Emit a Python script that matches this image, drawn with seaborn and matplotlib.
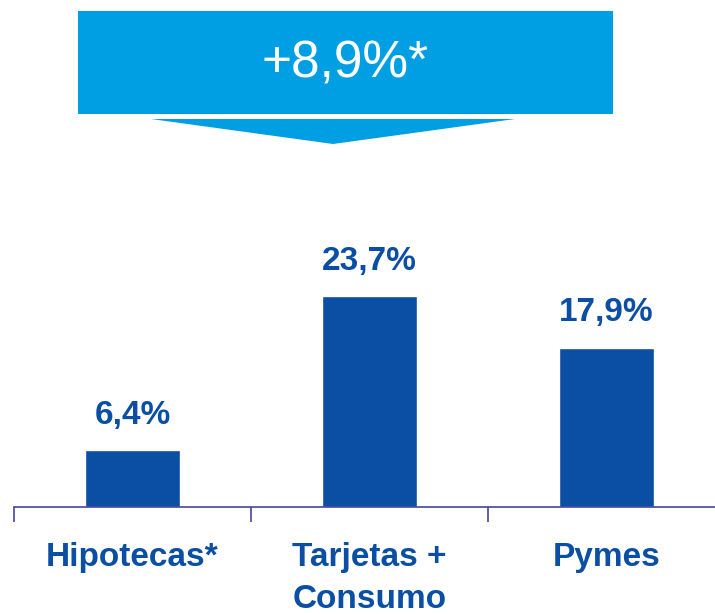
import matplotlib
matplotlib.use('Agg')
import matplotlib.pyplot as plt
import seaborn as sns
import pandas as pd
from matplotlib.patches import Rectangle, Polygon

categorias = ['Hipotecas*', 'Tarjetas +\nConsumo', 'Pymes']
valores = [6.4, 23.7, 17.9]
etiquetas = ['6,4%', '23,7%', '17,9%']
titulo = '+8,9%*'

azul_barra = '#0A4FA3'
azul_banner = '#009FE3'
color_eje = '#4646A0'

sns.set_style('white')
plt.rcParams['font.family'] = ['Liberation Sans', 'DejaVu Sans']

df = pd.DataFrame({'cat': categorias, 'val': valores})

fig = plt.figure(figsize=(7.15, 6.14), dpi=100)
W, H = 715, 614
# ejes: x de px 14 a 725, base en px 507
ax = fig.add_axes([14 / W, (H - 507) / H, 711 / W, 507 / H])
sns.barplot(data=df, x='cat', y='val', color=azul_barra, width=0.4,
            saturation=1, ax=ax)
ax.set_xlim(-0.5, 2.5)
ax.set_ylim(0, 507 / 8.9)

for s in ['top', 'right', 'left']:
    ax.spines[s].set_visible(False)
ax.spines['bottom'].set_color(color_eje)
ax.spines['bottom'].set_linewidth(1.2)
ax.set_yticks([])
ax.set_xlabel('')
ax.set_ylabel('')

ax.set_xticks(range(len(categorias)))
ax.set_xticklabels(categorias, fontsize=24, fontweight='bold', color=azul_barra,
                   linespacing=1.45)
ax.tick_params(axis='x', which='major', length=0, pad=25)
ax.set_xticks([-0.5, 0.5, 1.5], minor=True)
ax.tick_params(axis='x', which='minor', bottom=True, length=11, width=1.2,
               color=color_eje, direction='out')

for i, (v, t) in enumerate(zip(valores, etiquetas)):
    ax.annotate(t, (i, v), xytext=(0, 19), textcoords='offset points',
                ha='center', va='baseline', fontsize=24, fontweight='bold',
                color=azul_barra)

# banner
fig.patches.append(Rectangle((78 / W, 1 - 114 / H), 535 / W, 103 / H,
                             transform=fig.transFigure, color=azul_banner, lw=0))
fig.patches.append(Polygon([(151 / W, 1 - 119 / H), (515 / W, 1 - 119 / H),
                            (333 / W, 1 - 144 / H)], closed=True,
                           transform=fig.transFigure, color=azul_banner, lw=0))
fig.text(345 / W, 1 - 64 / H, titulo, ha='center', va='center', fontsize=37,
         color='white')

fig.savefig('out.png', dpi=100)
